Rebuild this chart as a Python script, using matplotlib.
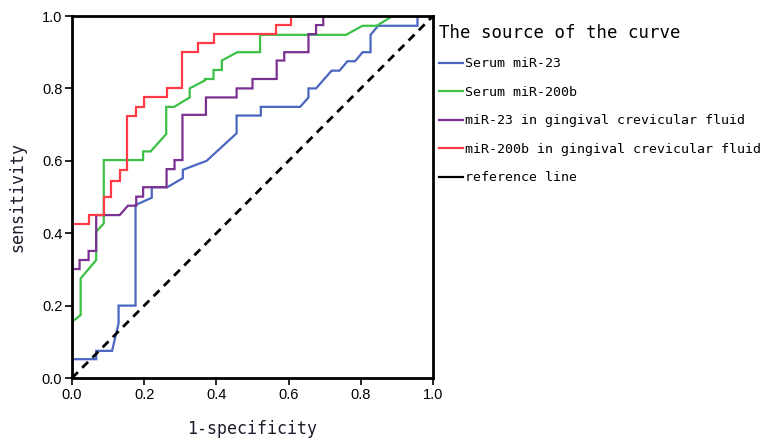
import matplotlib
matplotlib.use("Agg")
import matplotlib.pyplot as plt
from matplotlib.lines import Line2D
from matplotlib.font_manager import FontProperties

#### --------------------------------------------------- data

serum23_x = [0, 0, 0.067, 0.067, 0.111, 0.129, 0.129, 0.176, 0.176, 0.221, 0.221, 0.264, 0.307,
             0.307, 0.373, 0.456, 0.456, 0.523, 0.523, 0.632, 0.655, 0.655, 0.676, 0.719, 0.741,
             0.763, 0.784, 0.805, 0.827, 0.827, 0.848, 0.957, 0.957, 1.0]
serum23_y = [0, 0.052, 0.052, 0.075, 0.075, 0.151, 0.20, 0.20, 0.478, 0.498, 0.527, 0.527, 0.552,
             0.575, 0.60, 0.676, 0.725, 0.725, 0.749, 0.749, 0.775, 0.80, 0.80, 0.849, 0.849,
             0.875, 0.875, 0.90, 0.90, 0.948, 0.973, 0.973, 1.0, 1.0]

serum200b_x = [0, 0, 0.024, 0.024, 0.067, 0.067, 0.088, 0.088, 0.197, 0.197, 0.218, 0.261, 0.261,
               0.283, 0.326, 0.326, 0.368, 0.368, 0.392, 0.392, 0.415, 0.415, 0.458, 0.521, 0.521,
               0.759, 0.805, 0.844, 0.888, 1.0]
serum200b_y = [0, 0.155, 0.174, 0.275, 0.326, 0.404, 0.427, 0.602, 0.602, 0.626, 0.626, 0.674, 0.749,
               0.749, 0.775, 0.80, 0.822, 0.826, 0.826, 0.851, 0.851, 0.877, 0.90, 0.90, 0.948,
               0.948, 0.973, 0.973, 1.0, 1.0]

gcf23_x = [0, 0, 0.021, 0.021, 0.046, 0.046, 0.067, 0.067, 0.132, 0.155, 0.178, 0.178, 0.197, 0.197,
           0.262, 0.262, 0.284, 0.284, 0.306, 0.306, 0.371, 0.371, 0.456, 0.456, 0.50, 0.50,
           0.567, 0.567, 0.588, 0.588, 0.655, 0.655, 0.676, 0.676, 0.696, 0.696, 1.0]
gcf23_y = [0, 0.301, 0.301, 0.326, 0.326, 0.351, 0.351, 0.45, 0.45, 0.476, 0.476, 0.501, 0.501, 0.527,
           0.527, 0.577, 0.577, 0.602, 0.602, 0.727, 0.727, 0.775, 0.775, 0.80, 0.80, 0.826,
           0.826, 0.877, 0.877, 0.90, 0.90, 0.95, 0.95, 0.975, 0.975, 1.0, 1.0]

gcf200b_x = [0, 0, 0.046, 0.046, 0.088, 0.088, 0.109, 0.109, 0.132, 0.132, 0.153, 0.153, 0.176, 0.176,
             0.199, 0.199, 0.262, 0.262, 0.306, 0.306, 0.350, 0.350, 0.392, 0.392, 0.565, 0.565,
             0.608, 0.608, 1.0]
gcf200b_y = [0, 0.425, 0.425, 0.45, 0.45, 0.50, 0.50, 0.545, 0.545, 0.575, 0.575, 0.725, 0.725, 0.75,
             0.75, 0.775, 0.775, 0.80, 0.80, 0.90, 0.90, 0.925, 0.925, 0.95, 0.95, 0.975,
             0.975, 1.0, 1.0]

ref_x = [0, 1]
ref_y = [0, 1]

labels = ['Serum miR-23', 'Serum miR-200b', 'miR-23 in gingival crevicular fluid',
          'miR-200b in gingival crevicular fluid', 'reference line']
colors = ['#4a66c0', '#3cc046', '#7a3192', '#ff3c46', 'black']
ticks = [0.0, 0.2, 0.4, 0.6, 0.8, 1.0]

#### --------------------------------------------------- figure

mono = 'DejaVu Sans Mono'
fig = plt.figure(figsize=(7.6, 4.38), dpi=100)
ax = fig.add_axes([72/760, 60/438, 361/760, 362/438])

curves = [(serum23_x, serum23_y), (serum200b_x, serum200b_y), (gcf23_x, gcf23_y), (gcf200b_x, gcf200b_y)]
for (xs, ys), c in zip(curves, colors[:4]):
    ax.plot(xs, ys, color=c, lw=1.6, solid_joinstyle='miter')

ax.plot(ref_x, ref_y, color='black', lw=2, linestyle=(0, (3, 2.2)))

ax.set_xlim(0, 1)
ax.set_ylim(0, 1)
ax.set_xticks(ticks)
ax.set_yticks(ticks)
ax.set_xticklabels(['%.1f' % t for t in ticks])
ax.set_yticklabels(['%.1f' % t for t in ticks])
for s in ax.spines.values():
    s.set_linewidth(2)
ax.tick_params(direction='out', length=5, width=1.2, labelsize=10.5, pad=2)
for lab in ax.get_xticklabels() + ax.get_yticklabels():
    lab.set_family('Liberation Sans')

ax.set_xlabel('1-specificity', family=mono, fontsize=12, color='#1c1c2c', labelpad=13)
ax.set_ylabel('sensitivity', family=mono, fontsize=12, color='#1c1c2c', labelpad=11)

handles = [Line2D([0], [0], color=c, lw=1.6) for c in colors]
leg = ax.legend(handles, labels, title='The source of the curve', loc='upper left',
                bbox_to_anchor=(439/760, 414/438), bbox_transform=fig.transFigure,
                frameon=False, prop=FontProperties(family=mono, size=9.5),
                title_fontproperties=FontProperties(family=mono, size=12.5),
                alignment='left', handlelength=1.8, handletextpad=0.2, labelspacing=1.17,
                borderpad=0, borderaxespad=0)

plt.savefig('out.png', dpi=100)
